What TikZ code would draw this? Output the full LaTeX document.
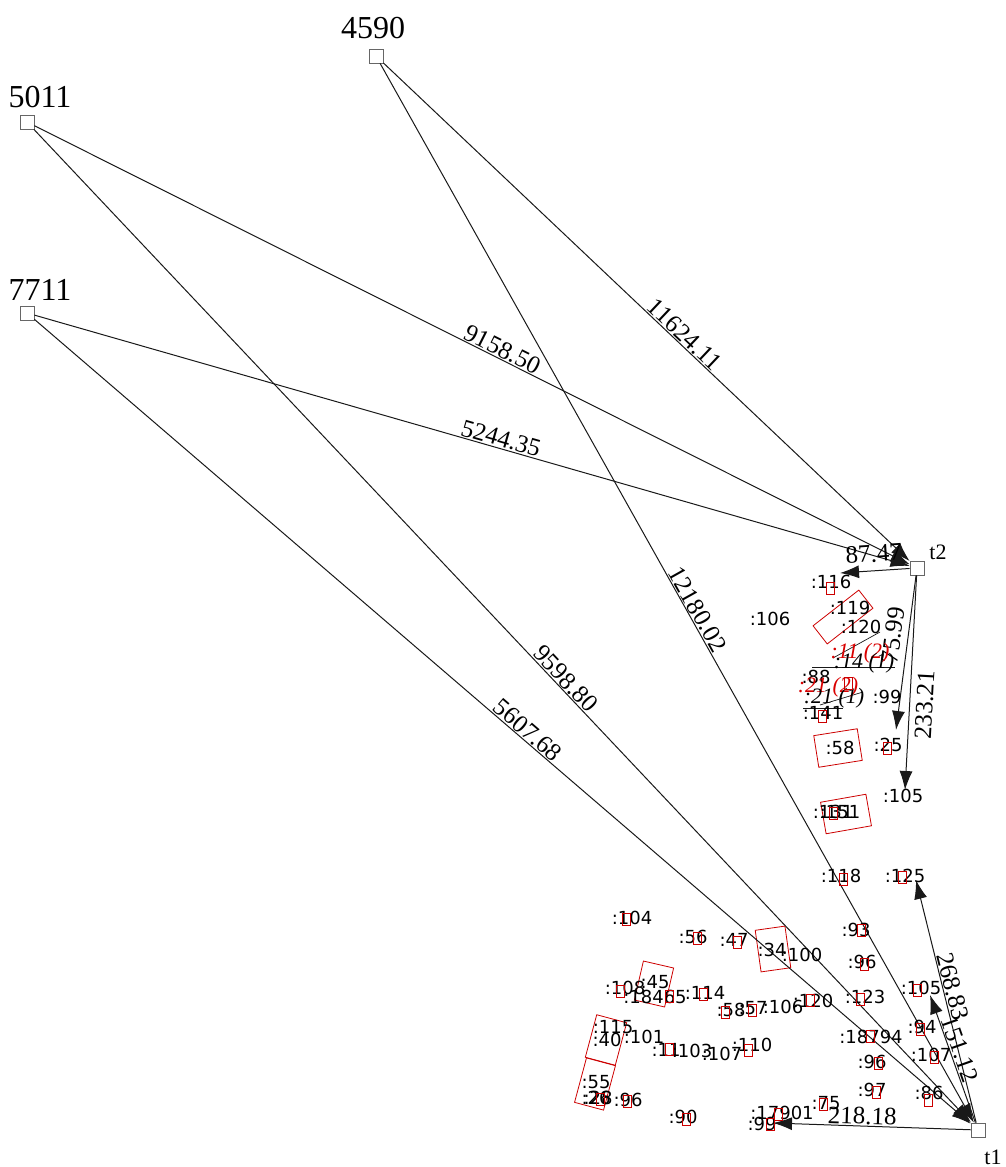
\documentclass[tikz,border=0pt]{standalone}
\usepackage{fontspec}
\setmainfont{Liberation Serif}
\newfontfamily\lblfont{DejaVu Sans}
\usetikzlibrary{arrows.meta}
\begin{document}
\begin{tikzpicture}[x=1pt,y=-1pt,
 vtx/.style={draw=black!60, fill=white, line width=0.8pt, minimum size=14pt, inner sep=0pt},
 big/.style={font=\fontsize{32}{32}\selectfont, inner sep=0pt},
 tl/.style={font=\fontsize{22}{22}\selectfont, inner sep=0pt},
 lnk/.style={draw=black!90, line width=1pt},
 arr/.style={lnk, -{Latex[length=19pt,width=13pt]}},
 elab/.style={font=\fontsize{25}{25}\selectfont, inner sep=1pt, sloped},
 sl/.style={font=\lblfont\fontsize{18}{18}\selectfont, inner sep=0pt},
 itl/.style={font=\itshape\fontsize{22}{22}\selectfont, inner sep=0pt},
 ritl/.style={itl, text=red!85!black},
 tag/.style={draw=red!80!black, line width=0.6pt, minimum width=8pt, minimum height=12pt, inner sep=0pt},
 rbox/.style={draw=red!80!black, line width=0.8pt, inner sep=0pt},
]
\useasboundingbox (0,0) rectangle (1005,1167);

% main vertices
\node[vtx] (n4590) at (376,56) {};
\node[big] (l4590) at (373,28) {4590};
\node[vtx] (n5011) at (27,122) {};
\node[big] (l5011) at (40,97) {5011};
\node[vtx] (n7711) at (27,313) {};
\node[big] (l7711) at (40,290) {7711};
\node[vtx] (t2) at (917,568) {};
\node[tl] (lt2) at (938,552) {t2};
\node[vtx] (t1) at (978,1130) {};
\node[tl] (lt1) at (993,1157) {t1};

% big red boxes
\node[rbox, minimum width=58pt, minimum height=23pt, rotate=38] (rb1) at (843,617) {};
\node[rbox, minimum width=44pt, minimum height=32pt, rotate=9] (rb2) at (838,748) {};
\node[rbox, minimum width=46pt, minimum height=32pt, rotate=10] (rb3) at (846,814) {};
\node[rbox, minimum width=30pt, minimum height=42pt, rotate=8] (rb4) at (773,949) {};
\node[rbox, minimum width=31pt, minimum height=40pt, rotate=-13] (rb5) at (654,984) {};
\node[rbox, minimum width=31pt, minimum height=44pt, rotate=-15] (rb6) at (606,1040) {};
\node[rbox, minimum width=30pt, minimum height=46pt, rotate=-15] (rb7) at (595,1084) {};

% free ends of short connectors
\coordinate (c116) at (840,573);
\coordinate (c25) at (896,730);
\coordinate (c105a) at (905,790);
\coordinate (c125) at (916,880);
\coordinate (c105b) at (930,995);
\coordinate (c99) at (773,1123);

% long connectors
\draw[arr] (n4590) -- node[elab, pos=0.56, above] {11624.11} (t2);
\draw[arr] (n5011) -- node[elab, pos=0.53, above] {9158.50} (t2);
\draw[arr] (n7711) -- node[elab, pos=0.53, above] {5244.35} (t2);
\draw[arr] (n4590) -- node[elab, pos=0.52, above] {12180.02} (t1);
\draw[arr] (n5011) -- node[elab, pos=0.56, above] {9598.80} (t1);
\draw[arr] (n7711) -- node[elab, pos=0.52, above] {5607.68} (t1);

% short connectors
\draw[arr] (t2) -- node[elab, pos=0.5, above=7pt] {87.47} (c116);
\draw[arr] (t2) -- node[elab, pos=0.4, above=5pt] {75.99} (c25);
\draw[arr] (t2) -- node[elab, pos=0.6, below=5pt] {233.21} (c105a);
\draw[arr] (t1) -- node[elab, pos=0.55, above] {268.83} (c125);
\draw[arr] (t1) -- node[elab, pos=0.55, above] {151.12} (c105b);
\draw[arr] (t1) -- node[elab, pos=0.55, above] {218.18} (c99);

% small strokes
\draw[lnk, line width=0.7pt] (812,667) -- (895,667);
\draw[lnk, line width=0.7pt] (833,658) -- (880,632);
\draw[lnk, line width=0.7pt] (803,708) -- (843,708);
\draw[lnk, line width=0.7pt] (820,705) -- (863,692);

% upper cluster labels
\node[sl] (a1) at (831,582) {:116};
\node[sl] (a2) at (770,619) {:106};
\node[sl] (a3) at (850,608) {:119};
\node[sl] (a4) at (861,627) {:120};
\node[ritl] (a5) at (860,653) {:11 (2)};
\node[itl] (a6) at (864,663) {:14 (1)};
\node[sl] (a7) at (816,677) {:88};
\node[ritl] (a8) at (828,687) {:21 (2)};
\node[itl] (a9) at (834,698) {:21 (1)};
\node[sl] (a10) at (887,697) {:99};
\node[sl] (a11) at (823,713) {:141};
\node[sl] (a12) at (840,748) {:58};
\node[sl] (a13) at (888,745) {:25};
\node[sl] (a14) at (903,796) {:105};
\node[sl] (a15) at (833,812) {:131};
\node[sl] (a16) at (840,812) {:151};
\node[sl] (a17) at (841,876) {:118};
\node[sl] (a18) at (905,876) {:125};

% lower cluster labels
\node[sl] (b1) at (632,918) {:104};
\node[sl] (b2) at (693,937) {:56};
\node[sl] (b3) at (734,940) {:47};
\node[sl] (b4) at (772,950) {:34};
\node[sl] (b5) at (802,955) {:100};
\node[sl] (b6) at (856,930) {:93};
\node[sl] (b7) at (862,962) {:96};
\node[sl] (b8) at (921,988) {:105};
\node[sl] (b9) at (865,997) {:123};
\node[sl] (b10) at (625,988) {:108};
\node[sl] (b11) at (655,982) {:45};
\node[sl] (b12) at (655,997) {:18465};
\node[sl] (b13) at (705,993) {:114};
\node[sl] (b14) at (731,1010) {:58};
\node[sl] (b15) at (753,1008) {:57};
\node[sl] (b16) at (783,1007) {:106};
\node[sl] (b17) at (813,1001) {:120};
\node[sl] (b18) at (922,1027) {:94};
\node[sl] (b19) at (871,1037) {:18794};
\node[sl] (b20) at (613,1027) {:115};
\node[sl] (b21) at (607,1040) {:40};
\node[sl] (b22) at (644,1037) {:101};
\node[sl] (b23) at (666,1050) {:11};
\node[sl] (b24) at (692,1051) {:103};
\node[sl] (b25) at (722,1054) {:107};
\node[sl] (b26) at (752,1045) {:110};
\node[sl] (b27) at (872,1062) {:96};
\node[sl] (b28) at (931,1055) {:107};
\node[sl] (b29) at (596,1082) {:55};
\node[sl] (b30) at (596,1098) {:26};
\node[sl] (b31) at (598,1098) {:28};
\node[sl] (b32) at (628,1100) {:96};
\node[sl] (b33) at (872,1090) {:97};
\node[sl] (b34) at (929,1093) {:86};
\node[sl] (b35) at (683,1117) {:90};
\node[sl] (b36) at (782,1113) {:17901};
\node[sl] (b37) at (762,1124) {:99};
\node[sl] (b38) at (826,1103) {:75};

% small red tags
\node[tag] (m1) at (830,588) {};
\node[tag] (m2) at (822,716) {};
\node[tag] (m3) at (887,748) {};
\node[tag] (m4) at (833,813) {};
\node[tag] (m5) at (843,879) {};
\node[tag] (m6) at (902,877) {};
\node[tag] (m7) at (626,919) {};
\node[tag] (m8) at (697,938) {};
\node[tag] (m9) at (737,942) {};
\node[tag] (m10) at (861,930) {};
\node[tag] (m11) at (864,964) {};
\node[tag] (m12) at (620,991) {};
\node[tag] (m13) at (669,996) {};
\node[tag] (m14) at (703,994) {};
\node[tag] (m15) at (725,1012) {};
\node[tag] (m16) at (752,1010) {};
\node[tag] (m17) at (810,1000) {};
\node[tag] (m18) at (917,990) {};
\node[tag] (m19) at (860,999) {};
\node[tag] (m20) at (920,1029) {};
\node[tag] (m21) at (870,1036) {};
\node[tag] (m22) at (669,1049) {};
\node[tag] (m23) at (748,1050) {};
\node[tag] (m24) at (878,1063) {};
\node[tag] (m25) at (934,1057) {};
\node[tag] (m26) at (600,1099) {};
\node[tag] (m27) at (627,1101) {};
\node[tag] (m28) at (876,1092) {};
\node[tag] (m29) at (928,1100) {};
\node[tag] (m30) at (686,1119) {};
\node[tag] (m31) at (770,1124) {};
\node[tag] (m32) at (823,1104) {};
\node[tag] (m33) at (778,1114) {};
\node[tag] (m34) at (848,683) {};
\end{tikzpicture}
\end{document}
